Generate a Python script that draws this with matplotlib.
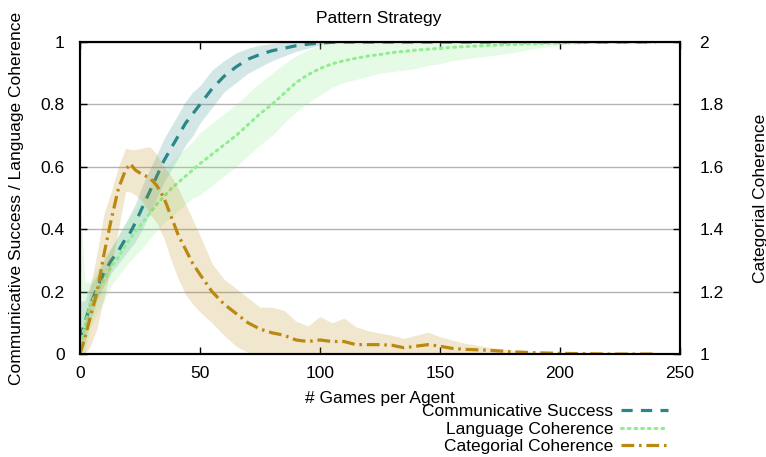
import matplotlib
matplotlib.use("Agg")
import matplotlib.pyplot as plt
from matplotlib.ticker import FuncFormatter

plt.rcParams['font.family'] = ['Liberation Sans', 'DejaVu Sans']
plt.rcParams['font.size'] = 12.5

# ---------------- data ----------------
games = [0, 2, 4, 7, 10, 13, 16, 19, 21, 23, 26, 29, 32, 35, 38, 41, 44, 47, 50,
         55, 60, 65, 70, 75, 80, 85, 90, 95, 100, 105, 110, 115, 120, 125, 130,
         135, 140, 145, 150, 155, 160, 170, 180, 190, 200, 210, 220, 230, 240]

cs_mean = [0.05, 0.10, 0.15, 0.21, 0.26, 0.30, 0.33, 0.37, 0.39, 0.42, 0.47, 0.52,
           0.57, 0.62, 0.66, 0.70, 0.74, 0.77, 0.80, 0.85, 0.89, 0.92, 0.945, 0.96,
           0.972, 0.98, 0.988, 0.993, 0.997, 0.999, 1.0, 1.0, 1.0, 1.0, 1.0, 1.0,
           1.0, 1.0, 1.0, 1.0, 1.0, 1.0, 1.0, 1.0, 1.0, 1.0, 1.0, 1.0, 1.0]
cs_lo = [0.0, 0.04, 0.10, 0.17, 0.22, 0.26, 0.29, 0.32, 0.34, 0.36, 0.40, 0.45,
         0.50, 0.55, 0.59, 0.63, 0.67, 0.70, 0.74, 0.79, 0.84, 0.87, 0.90, 0.92,
         0.94, 0.955, 0.97, 0.98, 0.99, 0.995, 1.0, 1.0, 1.0, 1.0, 1.0, 1.0,
         1.0, 1.0, 1.0, 1.0, 1.0, 1.0, 1.0, 1.0, 1.0, 1.0, 1.0, 1.0, 1.0]
cs_hi = [0.17, 0.17, 0.22, 0.25, 0.30, 0.34, 0.38, 0.42, 0.45, 0.48, 0.54, 0.59,
         0.64, 0.69, 0.73, 0.77, 0.81, 0.84, 0.86, 0.91, 0.94, 0.965, 0.98, 0.99,
         0.995, 1.0, 1.0, 1.0, 1.0, 1.0, 1.0, 1.0, 1.0, 1.0, 1.0, 1.0,
         1.0, 1.0, 1.0, 1.0, 1.0, 1.0, 1.0, 1.0, 1.0, 1.0, 1.0, 1.0, 1.0]

lc_mean = [0.03, 0.09, 0.15, 0.20, 0.24, 0.28, 0.31, 0.35, 0.37, 0.39, 0.42, 0.45,
           0.48, 0.505, 0.53, 0.55, 0.57, 0.59, 0.61, 0.64, 0.67, 0.70, 0.735, 0.77,
           0.80, 0.835, 0.87, 0.895, 0.915, 0.93, 0.94, 0.948, 0.955, 0.96, 0.966,
           0.97, 0.974, 0.977, 0.98, 0.983, 0.985, 0.989, 0.992, 0.995, 0.997,
           0.999, 1.0, 1.0, 1.0]
lc_lo = [0.0, 0.0, 0.08, 0.13, 0.17, 0.22, 0.25, 0.28, 0.30, 0.315, 0.34, 0.37,
         0.395, 0.42, 0.44, 0.46, 0.48, 0.50, 0.51, 0.54, 0.57, 0.60, 0.635, 0.67,
         0.70, 0.74, 0.775, 0.805, 0.83, 0.855, 0.87, 0.88, 0.89, 0.90, 0.905,
         0.91, 0.915, 0.925, 0.93, 0.94, 0.945, 0.955, 0.965, 0.98, 0.99,
         0.995, 1.0, 1.0, 1.0]
lc_hi = [0.5, 0.23, 0.23, 0.27, 0.31, 0.34, 0.38, 0.42, 0.44, 0.465, 0.50, 0.53,
         0.565, 0.59, 0.62, 0.64, 0.66, 0.68, 0.71, 0.74, 0.77, 0.80, 0.835, 0.87,
         0.90, 0.93, 0.955, 0.975, 0.99, 1.0, 1.0, 1.0, 1.0, 1.0, 1.0,
         1.0, 1.0, 1.0, 1.0, 1.0, 1.0, 1.0, 1.0, 1.0, 1.0,
         1.0, 1.0, 1.0, 1.0]

# categorial coherence on the right axis (1 .. 2)
cc_mean = [1.0, 1.05, 1.11, 1.195, 1.32, 1.43, 1.53, 1.59, 1.61, 1.59, 1.575, 1.565,
           1.54, 1.50, 1.44, 1.38, 1.335, 1.29, 1.255, 1.20, 1.16, 1.13, 1.10, 1.08,
           1.068, 1.06, 1.045, 1.04, 1.045, 1.04, 1.04, 1.03, 1.03, 1.03, 1.028,
           1.02, 1.025, 1.03, 1.025, 1.018, 1.015, 1.012, 1.007, 1.004, 1.002,
           1.001, 1.0, 1.0, 1.0]
cc_lo = [1.0, 1.0, 1.02, 1.08, 1.18, 1.28, 1.40, 1.52, 1.52, 1.51, 1.49, 1.45,
         1.42, 1.37, 1.30, 1.24, 1.19, 1.16, 1.135, 1.10, 1.06, 1.025, 1.005, 1.0,
         1.0, 1.0, 1.0, 1.0, 1.0, 1.0, 1.0, 1.0, 1.0, 1.0, 1.0,
         1.0, 1.0, 1.0, 1.0, 1.0, 1.0, 1.0, 1.0, 1.0, 1.0,
         1.0, 1.0, 1.0, 1.0]
cc_hi = [1.02, 1.10, 1.20, 1.32, 1.45, 1.52, 1.60, 1.66, 1.655, 1.655, 1.66, 1.665,
         1.64, 1.60, 1.57, 1.53, 1.48, 1.43, 1.38, 1.29, 1.24, 1.21, 1.18, 1.15,
         1.15, 1.14, 1.105, 1.09, 1.12, 1.10, 1.115, 1.087, 1.075, 1.067, 1.06,
         1.05, 1.06, 1.07, 1.055, 1.045, 1.035, 1.022, 1.012, 1.006, 1.003,
         1.001, 1.0, 1.0, 1.0]

x_ticks = [0, 50, 100, 150, 200, 250]
left_ticks = [0, 0.2, 0.4, 0.6, 0.8, 1]
right_ticks = [1, 1.2, 1.4, 1.6, 1.8, 2]

c_cs = '#2a8787'
c_lc = '#90ee90'
c_cc = '#bb8810'

# ---------------- figure ----------------
W, H = 766, 457
fig = plt.figure(figsize=(W / 100, H / 100), dpi=100)
ax = fig.add_axes([80 / W, 1 - 354 / H, 600 / W, 312 / H])
ax2 = ax.twinx()

ax.fill_between(games, cs_lo, cs_hi, color=c_cs, alpha=0.2, lw=0)
ax.fill_between(games, lc_lo, lc_hi, color=c_lc, alpha=0.22, lw=0)
l1, = ax.plot(games, cs_mean, color=c_cs, lw=2.3, linestyle=(0, (3.5, 2.6)),
              label='Communicative Success')
l2, = ax.plot(games, lc_mean, color=c_lc, lw=2.2, linestyle=(0, (0.6, 1.6)),
              dash_capstyle='round', label='Language Coherence')

ax2.fill_between(games, cc_lo, cc_hi, color=c_cc, alpha=0.2, lw=0)
l3, = ax2.plot(games, cc_mean, color=c_cc, lw=2.3, linestyle=(0, (4, 1.5, 0.8, 1.5)),
               label='Categorial Coherence')

ax.set_xlim(0, 250)
ax.set_ylim(0, 1)
ax2.set_ylim(1, 2)
ax.set_xticks(x_ticks)
ax.set_yticks(left_ticks)
ax2.set_yticks(right_ticks)
fmt = FuncFormatter(lambda v, p: ('%g' % round(v, 2)))
ax.yaxis.set_major_formatter(fmt)
ax2.yaxis.set_major_formatter(fmt)

ax.grid(axis='y', color='#b4b4b4', lw=1.0)
ax.set_axisbelow(True)

ax.tick_params(axis='x', direction='in', length=5, width=1, top=True, pad=9, labelsize=12.5)
ax.tick_params(axis='y', direction='in', length=5, width=1, pad=11, labelsize=12.5)
ax2.tick_params(axis='y', direction='in', length=5, width=1, pad=14, labelsize=12.5)
for a in (ax, ax2):
    for s in a.spines.values():
        s.set_linewidth(1.5)

ax.text(0.5, (354 - 398) / 312, '# Games per Agent', transform=ax.transAxes,
        ha='center', va='center', fontsize=12.5)
ax.text((17 - 80) / 600, 0.5, 'Communicative Success / Language Coherence',
        transform=ax.transAxes, ha='center', va='center', rotation=90, fontsize=12.5)
ax.text((760 - 80) / 600, 0.5, 'Categorial Coherence',
        transform=ax.transAxes, ha='center', va='center', rotation=90, fontsize=12.5)
fig.text(379 / W, 1 - 18 / H, 'Pattern Strategy', ha='center', va='center', fontsize=12.5)

fig.legend(handles=[l1, l2, l3], loc='upper right',
           bbox_to_anchor=(668 / W, 1 - 404 / H), frameon=False, markerfirst=False,
           borderpad=0, borderaxespad=0, handlelength=2.7, handletextpad=0.45,
           labelspacing=0.14, fontsize=12.5)

fig.savefig('out.png', dpi=100)
